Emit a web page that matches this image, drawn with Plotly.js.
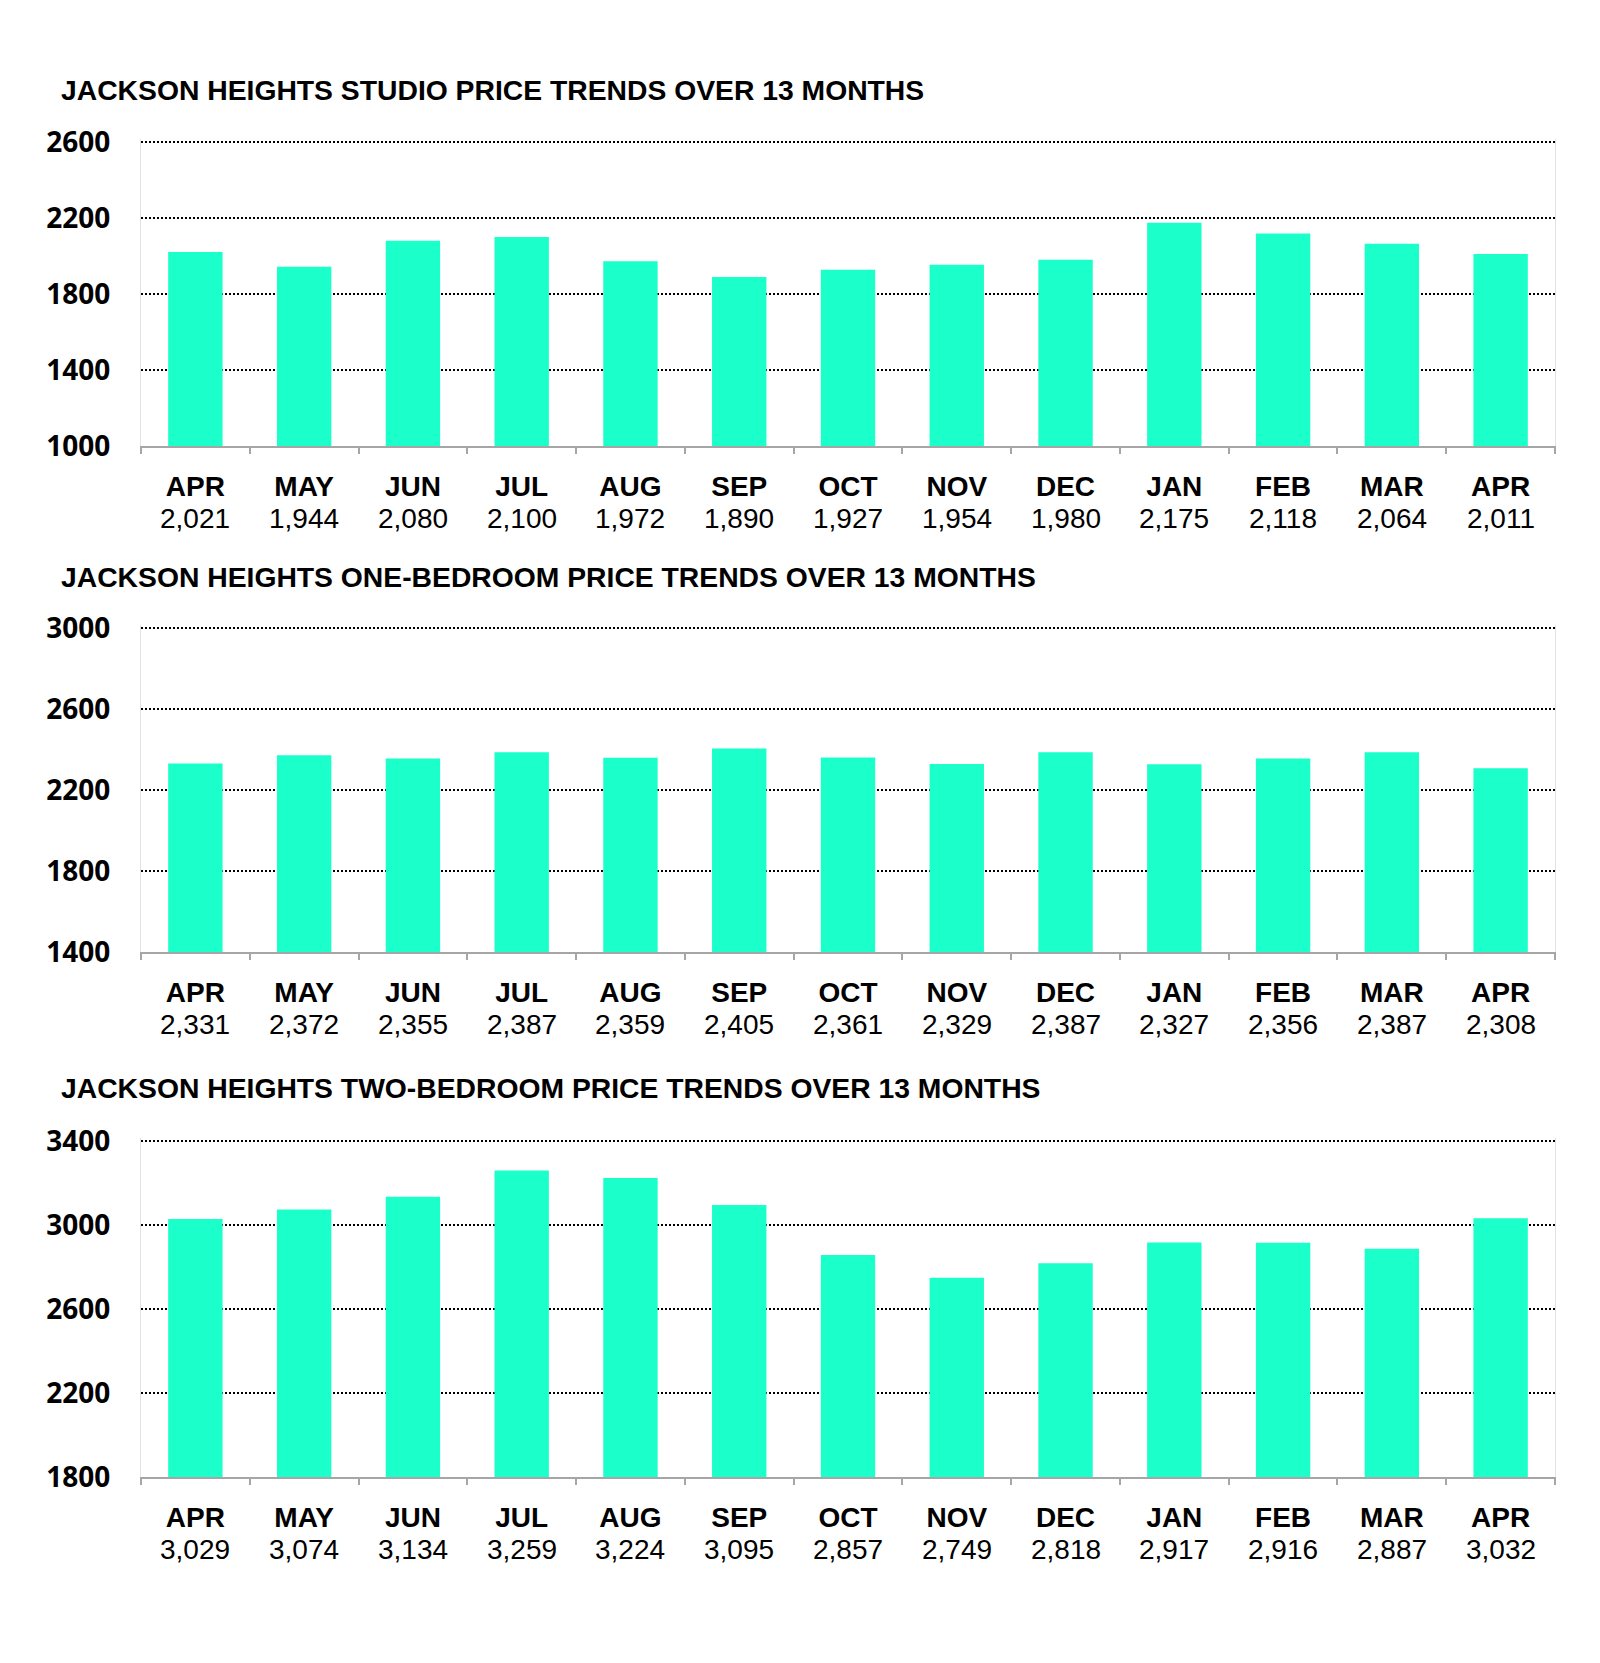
<!DOCTYPE html>
<html><head><meta charset="utf-8">
<script src="https://cdn.plot.ly/plotly-3.0.1.min.js"></script>
<style>html,body{margin:0;padding:0;background:#fff}#chart{width:1600px;height:1663px}</style>
</head><body><div id="chart"></div>
<script>
const months = ['APR','MAY','JUN','JUL','AUG','SEP','OCT','NOV','DEC','JAN','FEB','MAR','APR'];
const studio = [2021,1944,2080,2100,1972,1890,1927,1954,1980,2175,2118,2064,2011];
const oneBed = [2331,2372,2355,2387,2359,2405,2361,2329,2387,2327,2356,2387,2308];
const twoBed = [3029,3074,3134,3259,3224,3095,2857,2749,2818,2917,2916,2887,3032];
const titles = [
  'JACKSON HEIGHTS STUDIO PRICE TRENDS OVER 13 MONTHS',
  'JACKSON HEIGHTS ONE-BEDROOM PRICE TRENDS OVER 13 MONTHS',
  'JACKSON HEIGHTS TWO-BEDROOM PRICE TRENDS OVER 13 MONTHS'
];
const yRanges = [[1000,2600],[1400,3000],[1800,3400]];
const series = [studio, oneBed, twoBed];

const W = 1600, H = 1663;
// pixel geometry of each plot area: top grid line, bottom axis; title cap centre
const plotTops = [142, 628, 1141];
const plotBots = [446, 952, 1477];
const titleY = [90, 576.7, 1087.5];
const xL = 141, xR = 1555;
const EXTRA = 3; // px of head-room so the top grid line is drawn

const ARIAL = '"Liberation Sans", Arial, sans-serif';
const BAR = '#1bffcb';
const idx = months.map((m, i) => i);

const data = [];
const annotations = [];
const layout = {
  width: W, height: H,
  margin: {l: 0, r: 0, t: 0, b: 0},
  paper_bgcolor: '#fff', plot_bgcolor: '#fff',
  showlegend: false,
  bargap: 0.5,
  font: {family: ARIAL, color: '#000'}
};

series.forEach((vals, k) => {
  const sfx = k === 0 ? '' : String(k + 1);
  const xa = 'x' + sfx, ya = 'y' + sfx;
  data.push({
    type: 'bar', x: idx, y: vals, xaxis: xa, yaxis: ya,
    marker: {color: BAR, line: {width: 0}},
    hoverinfo: 'skip'
  });
  const hPx = plotBots[k] - plotTops[k];
  const yDom = [1 - plotBots[k] / H, 1 - (plotTops[k] - EXTRA) / H];
  const span = yRanges[k][1] - yRanges[k][0];
  layout['xaxis' + sfx] = {
    type: 'category',
    domain: [xL / W, xR / W],
    anchor: ya,
    tickmode: 'array', tickvals: idx, ticktext: months.map(m => '<b>' + m + '</b>'),
    tickson: 'boundaries',
    ticks: 'outside', ticklen: 6, tickwidth: 2, tickcolor: '#a6a6a6',
    showline: true, linecolor: '#a6a6a6', linewidth: 2,
    showgrid: false, zeroline: false,
    tickfont: {family: ARIAL, size: 28, color: '#000'},
    ticklabelstandoff: 14,
    fixedrange: true
  };
  layout['yaxis' + sfx] = {
    domain: yDom,
    anchor: xa,
    range: [yRanges[k][0], yRanges[k][1] + span * EXTRA / hPx],
    tickmode: 'linear', tick0: yRanges[k][0], dtick: 400,
    showgrid: true, gridcolor: '#000', gridwidth: 2, griddash: '2px,2px',
    showline: true, mirror: true, linecolor: '#e3e3e3', linewidth: 1,
    zeroline: false, ticks: '',
    tickfont: {family: '"Open Sans", sans-serif', size: 28, weight: 'bold', color: '#000'},
    ticklabelstandoff: 24,
    fixedrange: true
  };
  annotations.push({
    xref: 'paper', yref: 'paper', x: 58.5 / W, y: 1 - titleY[k] / H,
    xanchor: 'left', yanchor: 'middle', showarrow: false,
    text: '<b>' + titles[k] + '</b>',
    font: {family: ARIAL, size: 28.3, color: '#000'}
  });
  vals.forEach((v, i) => {
    annotations.push({
      xref: xa, yref: 'paper', x: i, y: yDom[0],
      xanchor: 'center', yanchor: 'middle', yshift: -72, showarrow: false,
      text: v.toLocaleString('en-US'),
      font: {family: ARIAL, size: 28, color: '#000'}
    });
  });
});
layout.annotations = annotations;

Plotly.newPlot('chart', data, layout, {displayModeBar: false, staticPlot: true});
</script>
</body></html>
